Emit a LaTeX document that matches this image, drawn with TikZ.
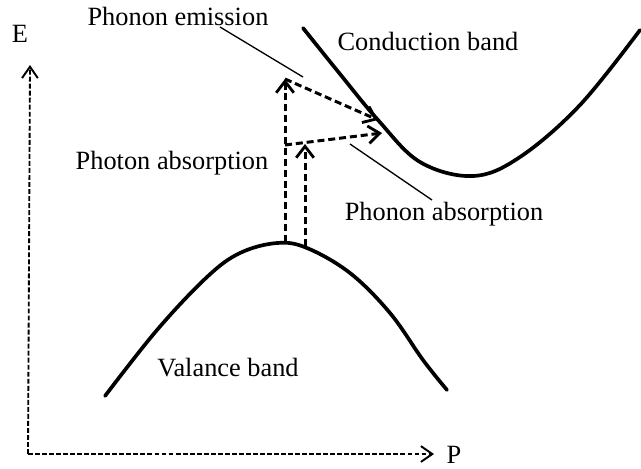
\documentclass[tikz,border=0pt]{standalone}
\usepackage{fontspec}
\setmainfont{Liberation Serif}
\usetikzlibrary{arrows.meta}
\begin{document}
\begin{tikzpicture}[x=0.02cm,y=-0.02cm,
  lbl/.style={font=\fontsize{15}{18}\selectfont, inner sep=0pt},
  band/.style={line width=2.1pt, line cap=round},
  trans/.style={line width=1.7pt, dash pattern=on 4pt off 2.2pt, -{Straight Barb[length=6.5pt,width=10pt,line width=1.6pt]}},
  axis/.style={line width=1.05pt, dash pattern=on 2.8pt off 1.2pt, -{Straight Barb[length=6.5pt,width=9pt,line width=1.1pt]}},
  pointer/.style={line width=0.75pt}]
\useasboundingbox (0,0) rectangle (641,468);
% axes
\coordinate (origin) at (28,454);
\coordinate (etip) at (30,65);
\coordinate (ptip) at (434,454);
\draw[axis] (origin) -- (etip);
\draw[axis] (origin) -- (ptip);
\node[lbl] (E) at (20,34) {E};
\node[lbl] (P) at (454,455) {P};
% bands
\draw[band] plot[smooth, tension=0.6] coordinates {(303,28) (340,74) (378,120) (420,162) (473,176) (520,157) (580,105) (640,30)};
\draw[band] plot[smooth, tension=0.6] coordinates {(105,396) (157,330) (207,277) (240,253) (277,243) (307,248) (350,273) (390,313) (423,360) (447,390)};
% transitions
\coordinate (v1b) at (285,242);
\coordinate (v1t) at (285,79);
\coordinate (v2b) at (305,246);
\coordinate (v2t) at (305,144);
\coordinate (em) at (378,120);
\coordinate (abs0) at (285,145);
\coordinate (abs1) at (382,133);
\draw[trans] (v1b) -- (v1t);
\draw[trans] (v2b) -- (v2t);
\draw[trans] (v1t) -- (em);
\draw[trans] (abs0) -- (abs1);
% labels
\node[lbl] (emis) at (178,16) {Phonon emission};
\node[lbl] (cb) at (428,41) {Conduction band};
\node[lbl] (pa) at (172,163) {Photon absorption};
\node[lbl] (phabs) at (444,214) {Phonon absorption};
\node[lbl] (vb) at (228,368) {Valance band};
% pointers
\coordinate (e1) at (220,27);
\coordinate (e2) at (303,77);
\coordinate (a1) at (350,144);
\coordinate (a2) at (432,200);
\draw[pointer] (e1) -- (e2);
\draw[pointer] (a1) -- (a2);
\end{tikzpicture}
\end{document}
